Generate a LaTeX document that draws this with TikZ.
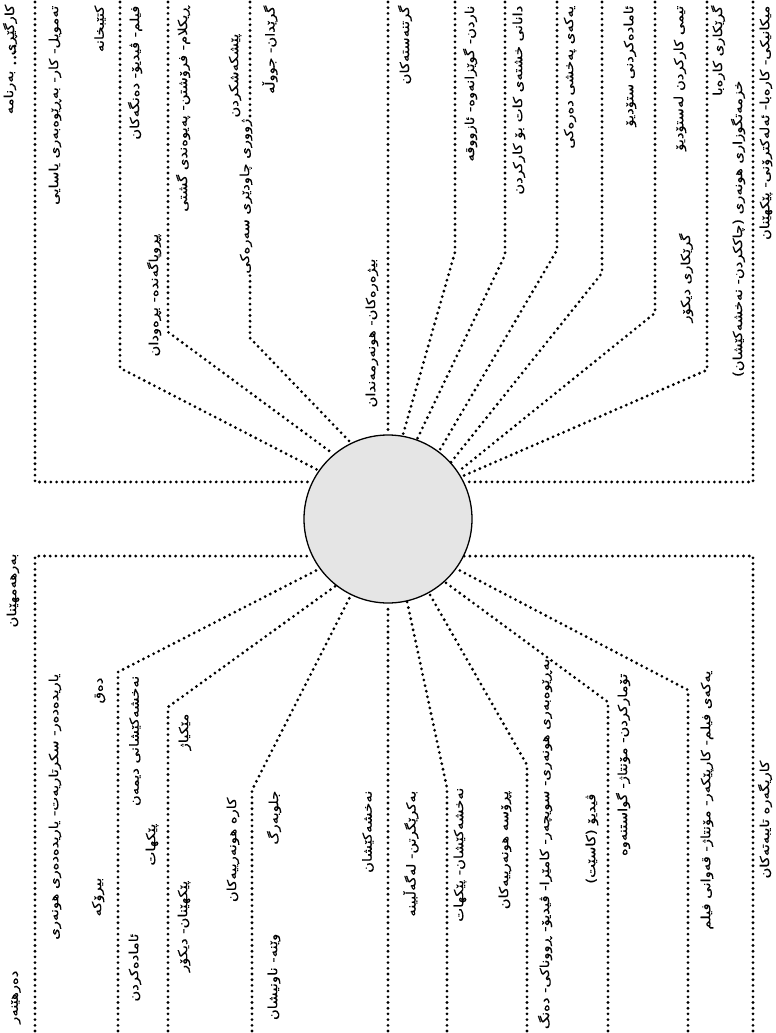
\documentclass[tikz,border=0pt]{standalone}
\usepackage{fontspec}
\newfontfamily\ku[Script=Arabic, FakeStretch=1.18, FakeBold=0.3]{DejaVu Sans}
\TeXXeTstate=1
\newcommand{\rl}[1]{\beginR #1\endR}
\tikzset{
  dotline/.style={line width=3.1pt, dash pattern=on 0pt off 5.7pt, line cap=round},
  lbl/.style={rotate=90, anchor=east, inner sep=0.5pt, font=\ku\fontsize{12.5}{15}\selectfont},
  hub/.style={circle, draw, line width=1.3pt, fill=gray!20, minimum size=168pt, inner sep=0pt},
}
\begin{document}
\begin{tikzpicture}[x=1pt,y=1pt]
\useasboundingbox (0,0) rectangle (776,-1033);
\node[hub] (c) at (388,-519) {};
% ---------- top lines ----------
\coordinate (l1a) at (35,-2);   \coordinate (l1b) at (35,-482);
\coordinate (l2a) at (120,-2);  \coordinate (l2b) at (120,-368);
\coordinate (l3a) at (168,-2);  \coordinate (l3b) at (168,-332);
\coordinate (l4a) at (250,-2);  \coordinate (l4b) at (250,-338);
\coordinate (l5a) at (388,-2);
\coordinate (r1a) at (455,-2);  \coordinate (r1b) at (455,-252);
\coordinate (r2a) at (505,-2);  \coordinate (r2b) at (505,-255);
\coordinate (r3a) at (557,-2);  \coordinate (r3b) at (557,-250);
\coordinate (r4a) at (602,-2);  \coordinate (r4b) at (602,-273);
\coordinate (r5a) at (655,-2);  \coordinate (r5b) at (655,-313);
\coordinate (r6a) at (707,-2);  \coordinate (r6b) at (707,-370);
\coordinate (r7a) at (753,-2);  \coordinate (r7b) at (753,-482);
\draw[dotline] (l1a) -- (l1b) -- (c.154);
\draw[dotline] (l2a) -- (l2b) -- (c.145);
\draw[dotline] (l3a) -- (l3b) -- (c.130);
\draw[dotline] (l4a) -- (l4b) -- (c.116);
\draw[dotline] (l5a) -- (c.90);
\draw[dotline] (r1a) -- (r1b) -- (c.80);
\draw[dotline] (r2a) -- (r2b) -- (c.70);
\draw[dotline] (r3a) -- (r3b) -- (c.53);
\draw[dotline] (r4a) -- (r4b) -- (c.42);
\draw[dotline] (r5a) -- (r5b) -- (c.34);
\draw[dotline] (r6a) -- (r6b) -- (c.30);
\draw[dotline] (r7a) -- (r7b) -- (c.26);
% ---------- bottom lines ----------
\coordinate (bl1a) at (35,-1031);  \coordinate (bl1b) at (35,-556);
\coordinate (bl2a) at (118,-1031); \coordinate (bl2b) at (118,-672);
\coordinate (bl3a) at (168,-1031); \coordinate (bl3b) at (168,-707);
\coordinate (bl4a) at (252,-1031); \coordinate (bl4b) at (252,-790);
\coordinate (bl5a) at (388,-1031);
\coordinate (br1a) at (447,-1031); \coordinate (br1b) at (447,-788);
\coordinate (br2a) at (527,-1031); \coordinate (br2b) at (527,-765);
\coordinate (br3a) at (608,-1031); \coordinate (br3b) at (608,-702);
\coordinate (br4a) at (688,-1031); \coordinate (br4b) at (688,-690);
\coordinate (br5a) at (753,-1031); \coordinate (br5b) at (753,-556);
\draw[dotline] (bl1a) -- (bl1b) -- (c.-154);
\draw[dotline] (bl2a) -- (bl2b) -- (c.-144);
\draw[dotline] (bl3a) -- (bl3b) -- (c.-128);
\draw[dotline] (bl4a) -- (bl4b) -- (c.-116);
\draw[dotline] (bl5a) -- (c.-90);
\draw[dotline] (br1a) -- (br1b) -- (c.-77);
\draw[dotline] (br2a) -- (br2b) -- (c.-61);
\draw[dotline] (br3a) -- (br3b) -- (c.-48);
\draw[dotline] (br4a) -- (br4b) -- (c.-36);
\draw[dotline] (br5a) -- (br5b) -- (c.-26);
% ---------- top labels ----------
\node[lbl] (t1a) at (10,-4) {\rl{کارگێڕی}};
\node[lbl] (t1b) at (10,-70) {\rl{بەرنامە}};
\coordinate (t1d1) at (15,-46); \coordinate (t1d2) at (15,-66);
\draw[dotline] (t1d1) -- (t1d2);
\node[lbl] (t2) at (55,-5) {\rl{تەمویل- کار- بەڕێوەبەری یاسایی}};
\node[lbl] (t3) at (100,-5) {\rl{کتێبخانە}};
\node[lbl] (t4) at (135,-5) {\rl{فیلم- ڤیدیۆ- دەنگەکان}};
\node[lbl] (t5) at (154,-233) {\rl{پڕوپاگەندە- بڕەودان}};
\node[lbl] (t6) at (183,-5) {\rl{ڕیکلام- فرۆشتن- پەیوەندی گشتی}};
\node[lbl] (t7) at (235,-33) {\rl{پێشکەشکردن}};
\node[lbl, fill=white] (t8) at (246,-118) {\rl{ژووری چاودێری سەرەکی}};
\node[lbl] (t9) at (270,-5) {\rl{گرێدان- جووڵە}};
\node[lbl] (t10) at (372,-258) {\rl{بیژەرەکان- هونەرمەندان}};
\node[lbl] (t11) at (405,-5) {\rl{گرتنەستەکان}};
\node[lbl] (t12) at (470,-5) {\rl{ناردن- گوێزانەوە- ئازووقە}};
\node[lbl] (t13) at (519,-5) {\rl{دانانی خشتەی کات بۆ کارکردن}};
\node[lbl] (t14) at (570,-5) {\rl{یەکەی پەخشی دەرەکی}};
\node[lbl] (t15) at (630,-5) {\rl{ئامادەکردنی ستۆدیۆ}};
\node[lbl] (t16) at (680,-5) {\rl{تیمی کارکردن لەستۆدیۆ}};
\node[lbl] (t17) at (686,-233) {\rl{گرێکاری دیکۆر}};
\node[lbl] (t18) at (718,-5) {\rl{گرێکاری کارەبا}};
\node[lbl] (t19) at (738,-80) {\rl{خزمەتگوزاری هونەری (چاککردن- نەخشەکێشان)}};
\node[lbl] (t20) at (766,-5) {\rl{میکانیکی- کارەبا- ئەلەکترۆنی- پێکهێنان}};
% ---------- bottom labels ----------
\node[lbl] (b1) at (13,-553) {\rl{بەرهەمهێنان}};
\node[lbl] (b2) at (55,-673) {\rl{یاریدەدەر- سکرتاریەت- یاریدەدەری هونەری}};
\node[lbl] (b3) at (16,-970) {\rl{دەرهێنەر}};
\node[lbl] (b4) at (100,-677) {\rl{دەق}};
\node[lbl] (b5) at (135,-675) {\rl{نەخشەکێشانی دیمەن}};
\node[lbl] (b6) at (185,-713) {\rl{مێکیاژ}};
\node[lbl] (b7) at (98,-877) {\rl{بیرۆکە}};
\node[lbl] (b8) at (135,-933) {\rl{ئامادەکردن}};
\node[lbl] (b9) at (152,-823) {\rl{پێکهات}};
\node[lbl] (b10) at (184,-880) {\rl{پێکهێنان- دیکۆر}};
\node[lbl] (b11) at (233,-797) {\rl{کارە هونەرییەکان}};
\node[lbl] (b12) at (274,-790) {\rl{جلوبەرگ}};
\node[lbl] (b13) at (274,-933) {\rl{وێنە- ناونیشان}};
\node[lbl] (b14) at (368,-790) {\rl{نەخشەکێشان}};
\node[lbl] (b15) at (411,-790) {\rl{بەکرێگرتن- لەگەڵبینە}};
\node[lbl] (b16) at (460,-787) {\rl{نەخشەکێشان- پێکهات}};
\node[lbl] (b17) at (505,-790) {\rl{پڕۆسە هونەرییەکان}};
\node[lbl] (b18) at (545,-658) {\rl{بەڕێوەبەری هونەری- سویچەر- کامێرا- ڤیدیۆ- ڕووناکی- دەنگ}};
\node[lbl] (b19) at (592,-793) {\rl{ڤیدیۆ (کاسێت)}};
\node[lbl] (b20) at (623,-673) {\rl{تۆمارکردن- مۆنتاژ- گواستنەوە}};
\node[lbl] (b21) at (707,-670) {\rl{یەکەی فیلم- کارپێکەر- مۆنتاژ- قەوانی فیلم}};
\node[lbl] (b22) at (765,-760) {\rl{کاریگەرە تایبەتەکان}};
\end{tikzpicture}
\end{document}
